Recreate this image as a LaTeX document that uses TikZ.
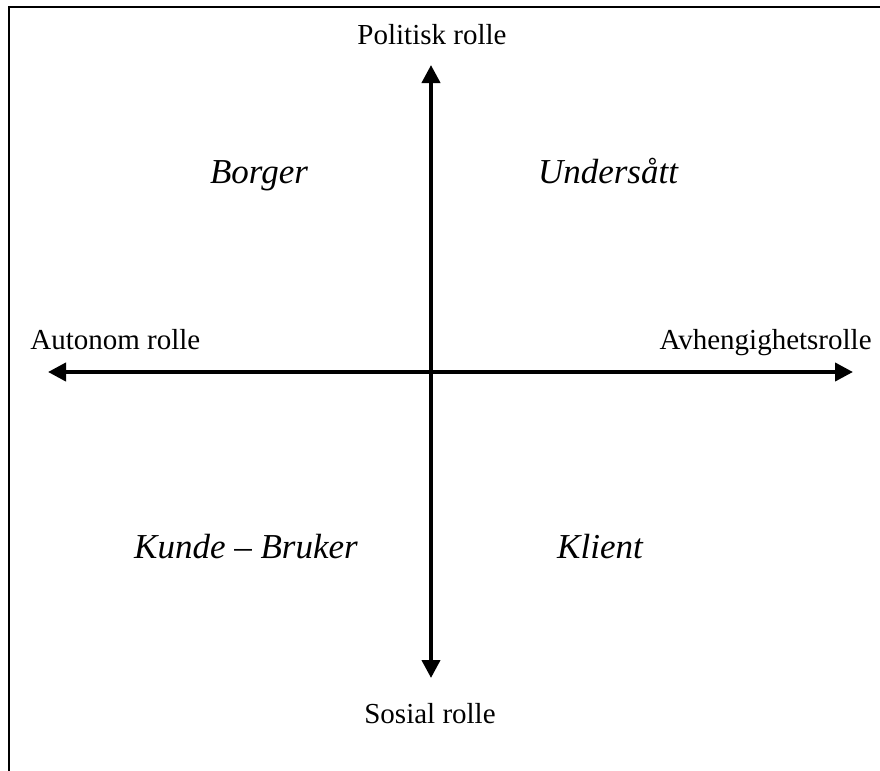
\documentclass[tikz,border=0pt]{standalone}
\usepackage{fontspec}
\setmainfont{Liberation Serif}
\usepackage{tikz}
\usetikzlibrary{arrows.meta}

\begin{document}
\begin{tikzpicture}[x=0.5pt, y=-0.5pt, font=\fontsize{14.5pt}{17pt}\selectfont,
  % axis arrows with solid triangular heads
  axis/.style={line width=2pt, {Triangle[length=9pt, width=9pt]}-{Triangle[length=9pt, width=9pt]}},
  axislab/.style={anchor=base, inner sep=0pt},
  rolelab/.style={anchor=base, inner sep=0pt, font=\fontsize{17.5pt}{20pt}\selectfont\itshape},
]
\useasboundingbox (0,0) rectangle (880,771);

%% ── frame (only top and left edges show) ─────────────────────────
\draw[line width=1pt] (9,771) -- (9,7) -- (880,7);

%% ── axis end points ──────────────────────────────────────────────
\coordinate (top) at (431,65);
\coordinate (bot) at (431,678);
\coordinate (lft) at (48,372);
\coordinate (rgt) at (853,372);

\draw[axis] (bot) -- (top);
\draw[axis] (lft) -- (rgt);

%% ── axis labels ──────────────────────────────────────────────────
\node[axislab] (pol) at (432,44) {Politisk rolle};
\node[axislab] (sos) at (430,723) {Sosial rolle};
\node[axislab, anchor=base west] (aut) at (30,349) {Autonom rolle};
\node[axislab, anchor=base east] (avh) at (872,349) {Avhengighetsrolle};

%% ── quadrant roles ───────────────────────────────────────────────
\node[rolelab] (bor) at (259,184) {Borger};
\node[rolelab] (und) at (608,184) {Undersått};
\node[rolelab] (kun) at (246,558) {Kunde – Bruker};
\node[rolelab] (kli) at (600,558) {Klient};

\end{tikzpicture}
\end{document}
